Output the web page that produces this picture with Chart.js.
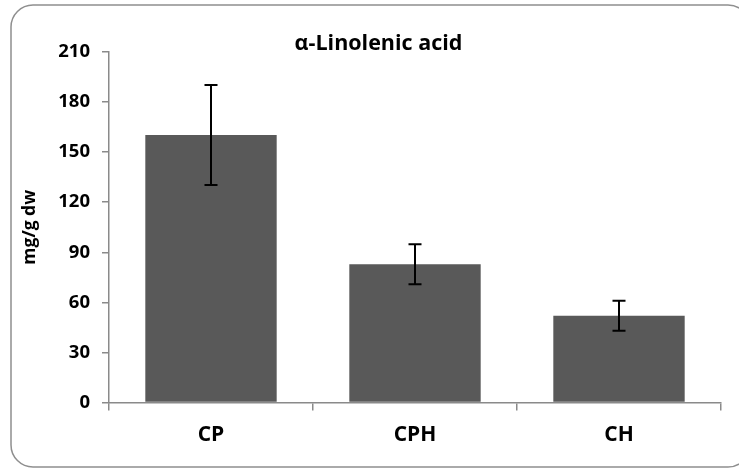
<!DOCTYPE html>
<html><head><meta charset="utf-8">
<script src="https://cdn.jsdelivr.net/npm/chart.js@4"></script>
<style>html,body{margin:0;padding:0;background:#fff;} canvas{display:block;}</style>
</head><body>
<canvas id="c" width="739" height="468"></canvas>
<script>
const chartTitle = 'α-Linolenic acid';
const yAxisTitle = 'mg/g dw';
const categories = ['CP', 'CPH', 'CH'];
const meanValues = [160.3, 82.8, 52.0];
const errorValues = [30.0, 12.0, 9.0];
const yMin = 0, yMax = 210, yStep = 30;

const FONT = '"Open Sans", "DejaVu Sans", sans-serif';

const framePlugin = {
  id: 'frame',
  beforeDraw(chart) {
    const ctx = chart.ctx;
    ctx.save();
    ctx.fillStyle = '#fff';
    ctx.fillRect(0, 0, chart.width, chart.height);
    ctx.strokeStyle = '#8f8f8f';
    ctx.lineWidth = 1.5;
    ctx.beginPath();
    ctx.roundRect(11, 5, 739, 462, 22);
    ctx.stroke();
    ctx.restore();
  }
};

const errorBarPlugin = {
  id: 'errorBars',
  afterDatasetsDraw(chart) {
    const ctx = chart.ctx;
    const y = chart.scales.y;
    const meta = chart.getDatasetMeta(0);
    ctx.save();
    ctx.strokeStyle = '#000';
    ctx.lineWidth = 2;
    meta.data.forEach((bar, i) => {
      const cx = bar.x;
      const top = y.getPixelForValue(meanValues[i] + errorValues[i]);
      const bot = y.getPixelForValue(meanValues[i] - errorValues[i]);
      ctx.beginPath();
      ctx.moveTo(cx, top); ctx.lineTo(cx, bot);
      ctx.moveTo(cx - 6.5, top); ctx.lineTo(cx + 6.5, top);
      ctx.moveTo(cx - 6.5, bot); ctx.lineTo(cx + 6.5, bot);
      ctx.stroke();
    });
    ctx.restore();
  }
};

const titlePlugin = {
  id: 'centerTitle',
  afterDraw(chart) {
    const ctx = chart.ctx;
    ctx.save();
    ctx.fillStyle = '#000';
    ctx.font = 'bold 21.5px ' + FONT;
    ctx.textAlign = 'center';
    ctx.textBaseline = 'alphabetic';
    ctx.fillText(chartTitle, 378.5, 50);
    ctx.restore();
  }
};

new Chart(document.getElementById('c'), {
  type: 'bar',
  data: {
    labels: categories,
    datasets: [{
      data: meanValues,
      backgroundColor: '#595959',
      borderWidth: 0,
      barPercentage: 0.644,
      categoryPercentage: 1.0
    }]
  },
  options: {
    responsive: false,
    animation: false,
    devicePixelRatio: 1,
    layout: { padding: { top: 52, right: 18, bottom: 0, left: 0 } },
    plugins: {
      legend: { display: false },
      title: { display: false },
      tooltip: { enabled: false }
    },
    scales: {
      x: {
        grid: { drawOnChartArea: false, offset: true, tickLength: 8, color: '#8a8a8a', lineWidth: 1.5 },
        border: { color: '#8a8a8a', width: 1.5 },
        ticks: { font: { family: FONT, size: 21, weight: 'bold' }, color: '#000', padding: 12 },
        afterFit(s) { s.height = 65.5; }
      },
      y: {
        min: yMin, max: yMax,
        ticks: { stepSize: yStep, font: { family: FONT, size: 18.5, weight: 'bold' }, color: '#000', padding: 12 },
        grid: { drawOnChartArea: false, tickLength: 7, color: '#8a8a8a', lineWidth: 1.5 },
        border: { color: '#8a8a8a', width: 1.5 },
        title: { display: true, text: yAxisTitle, font: { family: FONT, size: 17.5, weight: 'bold' }, color: '#000', padding: { top: 19.5, bottom: 0 } },
        afterFit(s) { s.width = 109; }
      }
    }
  },
  plugins: [framePlugin, errorBarPlugin, titlePlugin]
});
</script>
</body></html>
